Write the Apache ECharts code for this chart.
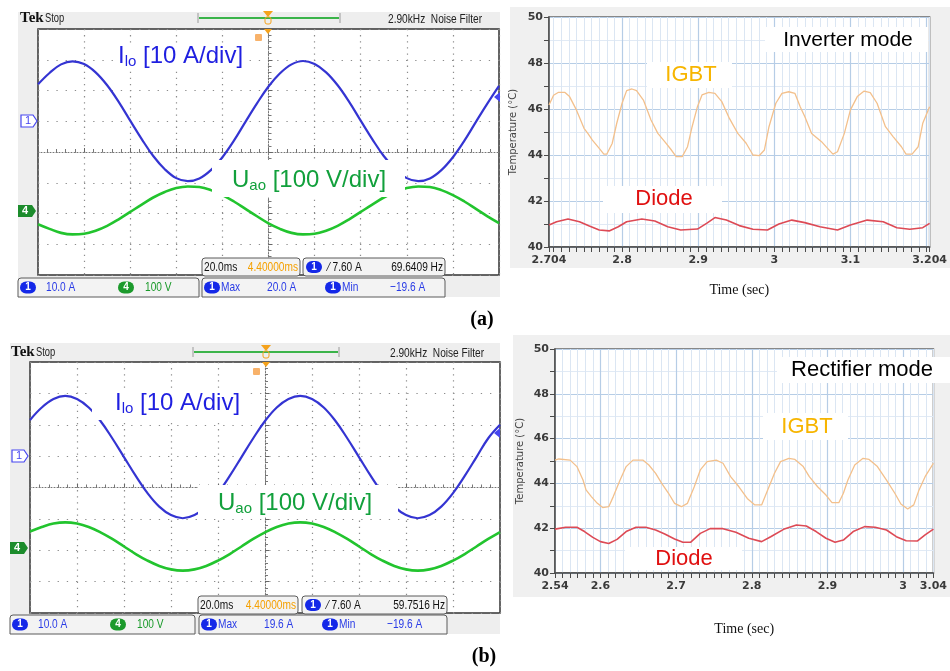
<!DOCTYPE html>
<html><head><meta charset="utf-8">
<script src="https://cdn.jsdelivr.net/npm/echarts@6/dist/echarts.min.js"></script>
<style>html,body{margin:0;padding:0;background:#fff}#c{width:950px;height:671px}</style>
</head><body><div id="c"></div>
<script>
// ---------------- DATA ----------------
// oscilloscope horizontal position in divisions (centre = 0)
const scopeDiv = [-5,-4.75,-4.5,-4.25,-4,-3.75,-3.5,-3.25,-3,-2.75,-2.5,-2.25,-2,-1.75,-1.5,-1.25,-1,-0.75,-0.5,-0.25,0,0.25,0.5,0.75,1,1.25,1.5,1.75,2,2.25,2.5,2.75,3,3.25,3.5,3.75,4,4.25,4.5,4.75,5];
// (a) inverter mode, traces in screen divisions
const iloA = [2.2,2.57,2.85,2.95,2.86,2.59,2.17,1.63,1.02,0.42,-0.13,-0.56,-0.85,-0.95,-0.86,-0.59,-0.17,0.37,0.98,1.58,2.13,2.56,2.85,2.96,2.86,2.59,2.17,1.63,1.02,0.42,-0.13,-0.56,-0.85,-0.95,-0.86,-0.59,-0.17,0.37,0.98,1.58,2.15];
const uaoA = [-2.35,-2.5,-2.63,-2.68,-2.66,-2.56,-2.4,-2.19,-1.95,-1.71,-1.48,-1.3,-1.17,-1.12,-1.14,-1.24,-1.4,-1.61,-1.85,-2.09,-2.32,-2.5,-2.63,-2.68,-2.66,-2.56,-2.4,-2.19,-1.95,-1.71,-1.48,-1.3,-1.17,-1.12,-1.14,-1.24,-1.4,-1.61,-1.85,-2.09,-2.31];
// (b) rectifier mode
const iloB = [2.15,2.55,2.82,2.92,2.82,2.55,2.12,1.57,0.97,0.37,-0.18,-0.61,-0.88,-0.98,-0.88,-0.61,-0.18,0.37,0.97,1.57,2.12,2.55,2.82,2.92,2.82,2.55,2.12,1.57,0.97,0.37,-0.18,-0.61,-0.88,-0.98,-0.88,-0.61,-0.18,0.37,0.97,1.57,2.0];
const uaoB = [-1.4,-1.26,-1.15,-1.11,-1.15,-1.26,-1.43,-1.64,-1.88,-2.12,-2.33,-2.5,-2.61,-2.65,-2.61,-2.5,-2.33,-2.12,-1.88,-1.64,-1.43,-1.26,-1.15,-1.11,-1.15,-1.26,-1.43,-1.64,-1.88,-2.12,-2.33,-2.5,-2.61,-2.65,-2.61,-2.5,-2.33,-2.12,-1.88,-1.64,-1.42];

// temperature traces [time (s), temperature (°C)]
const igbtA = [[2.704,46.17],[2.710,46.6],[2.716,46.72],[2.725,46.72],[2.731,46.54],[2.740,45.96],[2.750,45.16],[2.755,44.94],[2.761,44.65],[2.770,44.29],[2.776,44.04],[2.780,44.04],[2.787,44.5],[2.793,45.38],[2.800,46.25],[2.806,46.8],[2.813,46.87],[2.819,46.8],[2.828,46.39],[2.838,45.52],[2.847,44.94],[2.856,44.58],[2.864,44.25],[2.871,43.93],[2.879,43.93],[2.886,44.36],[2.892,45.23],[2.899,46.1],[2.905,46.61],[2.914,46.72],[2.922,46.68],[2.931,46.32],[2.941,45.59],[2.952,44.94],[2.963,44.51],[2.972,44.0],[2.980,43.97],[2.987,44.22],[2.993,45.23],[3.002,46.25],[3.010,46.68],[3.019,46.75],[3.027,46.68],[3.034,46.1],[3.040,45.67],[3.049,44.94],[3.062,44.58],[3.070,44.29],[3.077,44.04],[3.083,44.14],[3.092,44.94],[3.100,45.96],[3.109,46.54],[3.118,46.78],[3.126,46.71],[3.135,46.25],[3.146,45.23],[3.156,44.8],[3.167,44.36],[3.173,44.04],[3.181,44.04],[3.189,44.36],[3.195,45.38],[3.204,46.1]];
const diodeA = [[2.704,40.96],[2.714,41.1],[2.729,41.22],[2.744,41.1],[2.757,40.91],[2.770,40.74],[2.783,40.7],[2.795,40.88],[2.806,41.1],[2.826,41.22],[2.843,41.13],[2.860,40.88],[2.877,40.74],[2.899,40.78],[2.911,41.03],[2.922,41.28],[2.937,41.17],[2.954,40.93],[2.972,40.77],[2.991,40.74],[3.006,41.0],[3.023,41.17],[3.040,41.06],[3.060,40.88],[3.083,40.74],[3.100,40.96],[3.122,41.17],[3.143,41.1],[3.161,40.84],[3.178,40.77],[3.195,40.84],[3.204,41.03]];
const igbtB = [[2.54,45.04],[2.545,45.09],[2.560,45.04],[2.569,44.75],[2.577,44.15],[2.581,43.71],[2.588,43.41],[2.596,43.11],[2.603,42.92],[2.611,42.96],[2.617,43.41],[2.626,44.15],[2.634,44.75],[2.643,45.04],[2.656,45.04],[2.664,44.82],[2.673,44.45],[2.681,44.0],[2.690,43.56],[2.698,43.11],[2.707,42.96],[2.715,43.11],[2.724,43.85],[2.732,44.6],[2.741,44.97],[2.753,45.04],[2.762,44.9],[2.772,44.3],[2.783,43.85],[2.794,43.33],[2.804,43.04],[2.813,43.04],[2.821,43.71],[2.830,44.45],[2.838,44.97],[2.849,45.12],[2.857,45.07],[2.868,44.75],[2.876,44.3],[2.887,43.85],[2.898,43.48],[2.906,43.14],[2.915,43.14],[2.921,43.56],[2.927,44.15],[2.936,44.82],[2.947,45.12],[2.955,45.07],[2.966,44.75],[2.978,44.15],[2.989,43.56],[2.997,43.08],[3.006,42.86],[3.014,43.04],[3.021,43.71],[3.029,44.3],[3.040,44.9]];
const diodeB = [[2.54,41.96],[2.554,42.04],[2.569,42.04],[2.579,41.85],[2.590,41.59],[2.600,41.4],[2.611,41.32],[2.622,41.5],[2.634,41.85],[2.647,42.04],[2.660,42.04],[2.673,41.92],[2.685,41.74],[2.698,41.52],[2.709,41.37],[2.719,41.37],[2.732,41.77],[2.745,41.98],[2.762,41.98],[2.779,41.82],[2.796,41.55],[2.813,41.4],[2.825,41.62],[2.842,41.95],[2.859,42.14],[2.872,42.1],[2.885,41.85],[2.898,41.55],[2.910,41.37],[2.921,41.47],[2.934,41.85],[2.949,42.07],[2.963,42.04],[2.978,41.92],[2.991,41.62],[3.004,41.44],[3.019,41.43],[3.029,41.7],[3.040,41.96]];

// tick labels
const tempALabels = [2.704, 2.8, 2.9, 3, 3.1, 3.204];
const tempAMajor = [2.8, 2.9, 3, 3.1, 3.2];
const tempBLabels = [2.54, 2.6, 2.7, 2.8, 2.9, 3, 3.04];
const tempBMajor = [2.6, 2.7, 2.8, 2.9, 3];

function minorTicks(a, b, first, last) {
  const out = [first];
  for (let k = a; k <= b; k++) out.push(+(k / 100).toFixed(2));
  out.push(last);
  return out;
}
const tempAMinor = minorTicks(271, 320, 2.704, 3.204);
const tempBMinor = minorTicks(254, 304, 2.54, 3.04);

// ---------------- STYLE ----------------
const FN = "'Liberation Sans', sans-serif";
const NARROW = 0.78;
const BLUE_T = '#2a3ce6', GREEN_T = '#1a9a2a', ORANGE_T = '#f5a000';

function scopeAxes(grid) {
  return {
    x: {
      gridIndex: grid, type: 'value', min: -5, max: 5, interval: 1,
      axisLine: { show: true, onZero: true, lineStyle: { color: '#777', type: [1, 2], width: 1 } },
      axisTick: { show: true, inside: true, length: 4, lineStyle: { color: '#666' } },
      minorTick: { show: true, splitNumber: 5, length: 3, lineStyle: { color: '#777' } },
      axisLabel: { show: false },
      splitLine: { show: true, lineStyle: { color: '#8c8c8c', type: [1.3, 4.8], width: 1.2 } }
    },
    y: {
      gridIndex: grid, type: 'value', min: -4, max: 4, interval: 1,
      axisLine: { show: true, onZero: true, lineStyle: { color: '#777', type: [1.5, 1.5], width: 1 } },
      axisTick: { show: true, inside: true, length: 4, lineStyle: { color: '#666' } },
      minorTick: { show: true, splitNumber: 5, length: 3, lineStyle: { color: '#777' } },
      axisLabel: { show: false },
      splitLine: { show: true, lineStyle: { color: '#8c8c8c', type: [1.3, 7.9], width: 1.2 } }
    }
  };
}

function tempAxes(grid, min, max, labels, minor, major, nameGapX, nameGapY) {
  return {
    x: [{
      gridIndex: grid, type: 'value', min: min, max: max, position: 'bottom',
      axisLine: { show: true, onZero: false, lineStyle: { color: '#4a4a4a', width: 1.5 } },
      axisTick: { show: true, length: 5, customValues: minor, lineStyle: { color: '#4a4a4a' } },
      axisLabel: { customValues: labels, color: '#3a3a3a', fontSize: 11, margin: 8, fontFamily: 'DejaVu Sans', fontWeight: 'bold' },
      splitLine: { show: true, lineStyle: { color: '#dbe6f3', width: 1 } },
      name: 'Time (sec)', nameLocation: 'middle', nameGap: nameGapX,
      nameTextStyle: { fontFamily: 'Liberation Serif', fontSize: 14, color: '#111' }
    }, {
      gridIndex: grid, type: 'value', min: min, max: max, position: 'top',
      axisLine: { show: false }, axisTick: { show: false, customValues: major },
      axisLabel: { show: false },
      splitLine: { show: true, lineStyle: { color: '#b6cde6', width: 1.2 } }
    }],
    y: {
      gridIndex: grid, type: 'value', min: 40, max: 50, interval: 1,
      axisLine: { show: true, lineStyle: { color: '#4a4a4a', width: 1.5 } },
      axisTick: { show: true, length: 5, lineStyle: { color: '#4a4a4a' } },
      axisLabel: { color: '#3a3a3a', fontSize: 11, margin: 6, fontFamily: 'DejaVu Sans', fontWeight: 'bold',
        formatter: v => (v % 2 === 0 ? String(v) : '') },
      splitLine: { show: true, lineStyle: { color: ['#b6cde6', '#e1eaf5'], width: 1.2 } },
      name: 'Temperature (°C)', nameLocation: 'middle', nameGap: nameGapY, nameRotate: 90,
      nameTextStyle: { fontSize: 10, color: '#444', fontFamily: 'DejaVu Sans' }
    }
  };
}

const sA = scopeAxes(0), tA = tempAxes(1, 2.704, 3.204, tempALabels, tempAMinor, tempAMajor, 36, 31);
const sB = scopeAxes(2), tB = tempAxes(3, 2.54, 3.04, tempBLabels, tempBMinor, tempBMajor, 49, 30);

// ---------------- DECORATION ----------------
function T(x, y, text, fill, font, extra, z) {
  return { type: 'text', x: x, y: y, z: z || 130,
    style: Object.assign({ text: text, fill: fill, font: font, verticalAlign: 'middle', align: 'left' }, (extra || {})) };
}
function TN(x, y, text, fill, size, extra) {
  const t = T(x, y, text, fill, size + 'px ' + FN, extra, 122);
  t.scaleX = NARROW;
  return t;
}
function R(x, y, w, h, fill, stroke, z, r) {
  return { type: 'rect', z: z, shape: { x: x, y: y, width: w, height: h, r: r || 0 },
    style: { fill: fill, stroke: stroke || null, lineWidth: 1 } };
}
function badge(x, y, label, color) {
  return [R(x, y - 6, 16, 12, color, null, 118, 6),
    T(x + 8, y, label, '#fff', 'bold 10px ' + FN, { align: 'center' }, 122)];
}
function scopeDeco(p) {
  const e = [];
  e.push(R(p.fx, p.fy, p.fw, p.fh, '#eeeeee', null, -100));
  e.push(T(p.tekX, p.hy, 'Tek', '#111', 'bold 15px "Liberation Serif"'));
  e.push(TN(p.tekX + 25, p.hy + 1, 'Stop', '#222', 12));
  e.push({ type: 'line', z: 110, shape: { x1: p.bar[0], y1: p.hy, x2: p.bar[1], y2: p.hy }, style: { stroke: '#3bb44a', lineWidth: 2 } });
  e.push(R(p.bar[0] - 1, p.hy - 5, 2, 10, '#c4c4c4', null, 111));
  e.push(R(p.bar[1] - 1, p.hy - 5, 2, 10, '#c4c4c4', null, 111));
  e.push({ type: 'polygon', z: 112, shape: { points: [[p.trigX - 5, p.hy - 7], [p.trigX + 5, p.hy - 7], [p.trigX, p.hy - 1]] }, style: { fill: '#f5a21b' } });
  e.push(R(p.trigX - 3, p.hy - 1, 6, 7, 'none', '#f5a21b', 112, 2));
  e.push({ type: 'polygon', z: 112, shape: { points: [[p.trigX - 4, p.gTop], [p.trigX + 4, p.gTop], [p.trigX, p.gTop + 5]] }, style: { fill: '#f5a21b' } });
  e.push(R(p.tMark[0] - 3, p.tMark[1] - 3, 7, 7, '#f8b26a', null, 112, 1));
  e.push(TN(p.nfX, p.hy + 1, '2.90kHz  Noise Filter', '#222', 13));
  const [m1x, m1y] = p.m1, [m4x, m4y] = p.m4;
  e.push({ type: 'polygon', z: 112, shape: { points: [[m1x, m1y - 6], [m1x + 12, m1y - 6], [m1x + 16, m1y], [m1x + 12, m1y + 6], [m1x, m1y + 6]] }, style: { fill: '#fff', stroke: '#4646f0', lineWidth: 1.2 } });
  e.push(T(m1x + 4, m1y, '1', '#4646f0', '11px ' + FN));
  e.push({ type: 'polygon', z: 112, shape: { points: [[m4x, m4y - 6], [m4x + 14, m4y - 6], [m4x + 18, m4y], [m4x + 14, m4y + 6], [m4x, m4y + 6]] }, style: { fill: '#1c8c2c' } });
  e.push(T(m4x + 4, m4y, '4', '#fff', 'bold 11px ' + FN));
  const rx = p.fx + p.fw;
  e.push({ type: 'polygon', z: 112, shape: { points: [[rx, p.arrowY - 5], [rx - 6, p.arrowY], [rx, p.arrowY + 5]] }, style: { fill: '#4646f0' } });
  // row 1
  const r1c = p.r1y + p.r1h / 2;
  e.push(R(p.r1b1[0], p.r1y, p.r1b1[1] - p.r1b1[0], p.r1h, '#f3f3f3', '#5a5a5a', 115, 3));
  e.push(R(p.r1b2[0], p.r1y, p.r1b2[1] - p.r1b2[0], p.r1h, '#f3f3f3', '#5a5a5a', 115, 3));
  e.push(TN(p.r1b1[0] + 2, r1c, '20.0ms', '#111', 13));
  e.push(TN(p.r1b1[1] - 2, r1c, '4.40000ms', ORANGE_T, 13, { align: 'right' }));
  e.push(...badge(p.r1b2[0] + 3, r1c, '1', '#1428e8'));
  e.push(TN(p.r1b2[0] + 25, r1c, '\u2215 7.60 A', '#111', 13));
  e.push(TN(p.r1b2[1] - 2, r1c, p.freq, '#111', 13, { align: 'right' }));
  // row 2
  const r2c = p.r2y + p.r2h / 2;
  e.push(R(p.r2b1[0], p.r2y, p.r2b1[1] - p.r2b1[0], p.r2h, '#f3f3f3', '#5a5a5a', 115, [3, 3, 0, 0]));
  e.push(R(p.r2b2[0], p.r2y, p.r2b2[1] - p.r2b2[0], p.r2h, '#f3f3f3', '#5a5a5a', 115, [3, 3, 0, 0]));
  const L1 = p.r2b1[0], L2 = p.r2b2[0];
  e.push(...badge(L1 + 2, r2c, '1', '#1428e8'));
  e.push(TN(L1 + 28, r2c, '10.0 A', BLUE_T, 13));
  e.push(...badge(L1 + 100, r2c, '4', '#1c9a2c'));
  e.push(TN(L1 + 127, r2c, '100 V', GREEN_T, 13));
  e.push(...badge(L2 + 2, r2c, '1', '#1428e8'));
  e.push(TN(L2 + 19, r2c, 'Max', BLUE_T, 13));
  e.push(TN(L2 + 65, r2c, p.maxV, BLUE_T, 13));
  e.push(...badge(L2 + 123, r2c, '1', '#1428e8'));
  e.push(TN(L2 + 140, r2c, 'Min', BLUE_T, 13));
  e.push(TN(L2 + 188, r2c, p.minV, BLUE_T, 13));
  return e;
}
function richLabel(x, y, main, sub, rest, color) {
  return { type: 'text', x: x, y: y, z: 130, style: {
    text: '{a|' + main + '}{s|' + sub + '}{a|' + rest + '}', fill: color, verticalAlign: 'middle',
    rich: { a: { fontSize: 24, fontFamily: 'Liberation Sans', fill: color },
            s: { fontSize: 15, fontFamily: 'Liberation Sans', fill: color, padding: [11, 0, 0, 0] } } } };
}
function boxLabel(bx, by, bw, bh, cx, cy, text, color, size) {
  return [R(bx, by, bw, bh, '#fff', null, 125),
    T(cx, cy, text, color, size + 'px "Liberation Sans"', { align: 'center' }, 130)];
}

const graphics = [].concat(
  scopeDeco({ fx: 18, fy: 12, fw: 482, fh: 285, tekX: 20, hy: 18, bar: [198, 340], trigX: 268, nfX: 388, gTop: 29,
    tMark: [258, 37], m1: [21, 121], m4: [18, 211], arrowY: 97,
    r1y: 258, r1h: 18, r1b1: [202, 300], r1b2: [303, 445], r2y: 278, r2h: 19, r2b1: [18, 199], r2b2: [202, 445],
    freq: '69.6409 Hz', maxV: '20.0 A', minV: '\u221219.6 A' }),
  scopeDeco({ fx: 10, fy: 343, fw: 490, fh: 291, tekX: 11, hy: 352, bar: [193, 339], trigX: 266, nfX: 390, gTop: 362,
    tMark: [256, 371], m1: [12, 456], m4: [10, 548], arrowY: 433,
    r1y: 596, r1h: 18, r1b1: [198, 298], r1b2: [302, 447], r2y: 615, r2h: 19, r2b1: [10, 195], r2b2: [199, 447],
    freq: '59.7516 Hz', maxV: '19.6 A', minV: '\u221219.6 A' }),
  [R(510, 7, 440, 261, '#f0f0f0', null, -100), R(513, 335, 437, 262, '#f0f0f0', null, -100)],
  [R(113, 43, 134, 27, '#fff', null, 125), richLabel(118, 56, 'I', 'lo', ' [10 A/div]', '#1f1fe0'),
   R(212, 160, 193, 37, '#fff', null, 125), richLabel(232, 180, 'U', 'ao', ' [100 V/div]', '#12a03c'),
   R(92, 388, 153, 32, '#fff', null, 125), richLabel(115, 403, 'I', 'lo', ' [10 A/div]', '#1f1fe0'),
   R(198, 485, 200, 32, '#fff', null, 125), richLabel(218, 503, 'U', 'ao', ' [100 V/div]', '#12a03c')],
  boxLabel(765, 27, 163, 25, 848, 40, 'Inverter mode', '#000', 21),
  boxLabel(647, 62, 85, 26, 691, 75, 'IGBT', '#f7b500', 22),
  boxLabel(603, 186, 119, 27, 664, 199, 'Diode', '#e01010', 22),
  boxLabel(777, 357, 173, 26, 862, 370, 'Rectifier mode', '#000', 22),
  boxLabel(763, 413, 85, 27, 807, 427, 'IGBT', '#f7b500', 22),
  boxLabel(625, 547, 117, 23, 684, 559, 'Diode', '#e01010', 22),
  [T(482, 320, '(a)', '#000', 'bold 20px "Liberation Serif"', { align: 'center' }),
   T(484, 657, '(b)', '#000', 'bold 20px "Liberation Serif"', { align: 'center' })]
);

function line(xi, yi, data, color, width, smooth, z) {
  return { type: 'line', xAxisIndex: xi, yAxisIndex: yi, data: data, showSymbol: false, smooth: smooth,
    lineStyle: { color: color, width: width }, itemStyle: { color: color }, z: z || 3, animation: false };
}
const zipDiv = arr => scopeDiv.map((x, i) => [x, arr[i]]);

const option = {
  animation: false,
  backgroundColor: '#ffffff',
  grid: [
    { left: 38, top: 29, width: 461, height: 246, show: true, backgroundColor: '#fff', borderColor: '#333', borderWidth: 1.5 },
    { left: 549, top: 17, width: 388, height: 230, show: true, backgroundColor: '#fff', borderColor: '#666', borderWidth: 1.5 },
    { left: 30, top: 362, width: 470, height: 251, show: true, backgroundColor: '#fff', borderColor: '#333', borderWidth: 1.5 },
    { left: 555, top: 349, width: 393, height: 224, show: true, backgroundColor: '#fff', borderColor: '#666', borderWidth: 1.5 }
  ],
  xAxis: [sA.x, tA.x[0], tA.x[1], sB.x, tB.x[0], tB.x[1]],
  yAxis: [sA.y, tA.y, sB.y, tB.y],
  series: [
    line(0, 0, zipDiv(iloA), '#3434d2', 2.2, 0.4),
    line(0, 0, zipDiv(uaoA), '#22c42e', 2.6, 0.4),
    line(1, 1, igbtA, '#f3c08c', 1.3, false),
    line(1, 1, diodeA, '#dd4a55', 1.6, false),
    line(3, 2, zipDiv(iloB), '#3434d2', 2.2, 0.4),
    line(3, 2, zipDiv(uaoB), '#22c42e', 2.6, 0.4),
    line(4, 3, igbtB, '#f3c08c', 1.3, false),
    line(4, 3, diodeB, '#dd4a55', 1.6, false)
  ],
  graphic: { elements: graphics }
};
const chart = echarts.init(document.getElementById('c'), null, { renderer: 'canvas' });
chart.setOption(option);
</script></body></html>
